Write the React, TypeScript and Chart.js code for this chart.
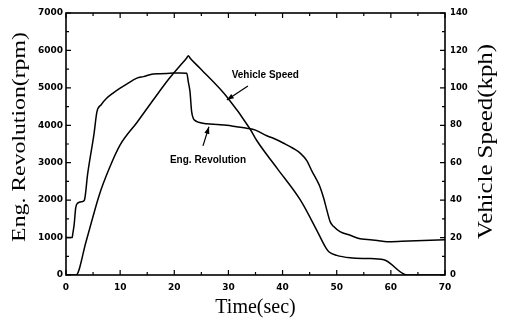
import React, { useEffect, useRef } from "react";
import { Chart, registerables } from "chart.js";

Chart.register(...registerables);

// ---- data ----
const rpmTime = [0, 1.15, 1.25, 1.5, 1.8, 2.15, 3.0, 3.4, 4.0, 5.2, 5.7, 6.5, 7.5, 8.7, 10.0, 11.2, 13.1, 14.3, 16.1, 17.4, 19.2, 21.0, 22.3, 22.6, 22.9, 23.2, 23.5, 23.8, 24.5, 26.0, 28.0, 29.7, 31.5, 33.4, 35.0, 37.1, 38.5, 40.2, 42.0, 43.3, 44.5, 45.4, 46.3, 46.9, 47.6, 48.2, 48.8, 49.4, 50.6, 52.5, 54.3, 55.6, 57.5, 59.3, 62.0, 66.0, 70.0];
const rpmValues = [1000, 1000, 1100, 1340, 1800, 1920, 1960, 2000, 2700, 3800, 4350, 4550, 4720, 4860, 4990, 5100, 5260, 5300, 5370, 5380, 5390, 5400, 5390, 5150, 4900, 4370, 4190, 4130, 4080, 4040, 4020, 4000, 3960, 3920, 3870, 3720, 3640, 3520, 3380, 3250, 3050, 2780, 2540, 2360, 2050, 1720, 1420, 1300, 1160, 1060, 970, 950, 920, 890, 900, 920, 940];

const speedTime = [0, 1.85, 3.7, 6.15, 8.0, 10.0, 13.1, 16.1, 19.2, 21.1, 22.3, 22.6, 22.9, 24.75, 29.7, 34.0, 35.2, 39.0, 43.3, 46.3, 48.0, 48.6, 50.0, 52.5, 55.6, 58.7, 63.0, 70.0];
const speedValues = [0, 0, 17.8, 42.8, 57, 69.5, 81.5, 93.5, 105.5, 112, 116, 117.2, 116, 110.5, 95.3, 78, 72, 57, 40, 24, 14.5, 12.3, 10.5, 9.2, 8.8, 8.2, 0, 0];

const timeTicks = [0, 10, 20, 30, 40, 50, 60, 70];
const rpmTicks = [0, 1000, 2000, 3000, 4000, 5000, 6000, 7000];
const speedTicks = [0, 20, 40, 60, 80, 100, 120, 140];

const xTitle = "Time(sec)";
const yTitle = "Eng. Revolution(rpm)";
const y2Title = "Vehicle Speed(kph)";

// annotation anchors in data units: [time, value]
const speedLabel = "Vehicle Speed";
const speedLabelAt = [30.6, 107]; // on speed axis
const speedArrowFrom = [33.6, 101];
const speedArrowTo = [29.7, 93.5];
const rpmLabel = "Eng. Revolution";
const rpmLabelAt = [19.2, 3075]; // on rpm axis
const rpmArrowFrom = [25.3, 3450];
const rpmArrowTo = [26.4, 3960];

const toPoints = (xs: number[], ys: number[]) => xs.map((x, i) => ({ x, y: ys[i] }));

function arrow(ctx: CanvasRenderingContext2D, x1: number, y1: number, x2: number, y2: number) {
  ctx.beginPath();
  ctx.moveTo(x1, y1);
  ctx.lineTo(x2, y2);
  ctx.stroke();
  const a = Math.atan2(y2 - y1, x2 - x1);
  const len = 7;
  const w = 2.6;
  ctx.beginPath();
  ctx.moveTo(x2, y2);
  ctx.lineTo(x2 - len * Math.cos(a) + w * Math.sin(a), y2 - len * Math.sin(a) - w * Math.cos(a));
  ctx.lineTo(x2 - len * Math.cos(a) - w * Math.sin(a), y2 - len * Math.sin(a) + w * Math.cos(a));
  ctx.closePath();
  ctx.fill();
}

function vText(ctx: CanvasRenderingContext2D, text: string, x: number, y: number, font: string, stretch: number) {
  ctx.save();
  ctx.translate(x, y);
  ctx.rotate(-Math.PI / 2);
  ctx.scale(stretch, 1);
  ctx.font = font;
  ctx.textAlign = "center";
  ctx.textBaseline = "alphabetic";
  ctx.fillStyle = "#000";
  ctx.fillText(text, 0, 0);
  ctx.restore();
}

const framePlugin = {
  id: "frameAndNotes",
  afterDatasetsDraw(chart: any) {
    const { ctx, chartArea, scales } = chart;
    const { left, right, top, bottom } = chartArea;
    const x = scales.x, y = scales.y, y2 = scales.y2;
    ctx.save();
    ctx.strokeStyle = "#000";
    ctx.fillStyle = "#000";
    ctx.lineWidth = 1.6;
    ctx.strokeRect(left, top, right - left, bottom - top);
    ctx.lineWidth = 1.2;
    ctx.beginPath();
    for (let v = 0; v <= 7000; v += 500) {
      const p = y.getPixelForValue(v);
      const l = v % 1000 === 0 ? 5 : 3;
      ctx.moveTo(left, p);
      ctx.lineTo(left + l, p);
    }
    for (let v = 0; v <= 140; v += 10) {
      const p = y2.getPixelForValue(v);
      const l = v % 20 === 0 ? 5 : 3;
      ctx.moveTo(right, p);
      ctx.lineTo(right - l, p);
    }
    for (let t = 0; t <= 70; t += 5) {
      const p = x.getPixelForValue(t);
      const l = t % 10 === 0 ? 5 : 3;
      ctx.moveTo(p, bottom);
      ctx.lineTo(p, bottom - l);
      ctx.moveTo(p, top);
      ctx.lineTo(p, top + l);
    }
    ctx.stroke();

    // annotations
    ctx.font = "bold 10px 'Liberation Sans', Arial, sans-serif";
    ctx.textBaseline = "middle";
    ctx.textAlign = "left";
    ctx.fillText(speedLabel, x.getPixelForValue(speedLabelAt[0]), y2.getPixelForValue(speedLabelAt[1]));
    ctx.fillText(rpmLabel, x.getPixelForValue(rpmLabelAt[0]), y.getPixelForValue(rpmLabelAt[1]));
    ctx.lineWidth = 1.2;
    arrow(ctx, x.getPixelForValue(speedArrowFrom[0]), y2.getPixelForValue(speedArrowFrom[1]),
      x.getPixelForValue(speedArrowTo[0]), y2.getPixelForValue(speedArrowTo[1]));
    arrow(ctx, x.getPixelForValue(rpmArrowFrom[0]), y.getPixelForValue(rpmArrowFrom[1]),
      x.getPixelForValue(rpmArrowTo[0]), y.getPixelForValue(rpmArrowTo[1]));
    ctx.restore();

    const mid = (top + bottom) / 2;
    vText(ctx, yTitle, left - 41.5, mid - 7, "19px 'Liberation Serif', 'Times New Roman', serif", 1.25);
    vText(ctx, y2Title, right + 47, mid - 2.5, "20px 'Liberation Serif', 'Times New Roman', serif", 1.24);
  },
};

const tickFont = { family: "'DejaVu Sans', sans-serif", size: 9, weight: "bold" as const };
const plain = (v: any) => String(v);

export default function App() {
  const ref = useRef<HTMLCanvasElement | null>(null);
  useEffect(() => {
    if (!ref.current) return;
    const chart = new Chart(ref.current, {
      type: "line",
      data: {
        datasets: [
          {
            label: "Eng. Revolution",
            data: toPoints(rpmTime, rpmValues),
            yAxisID: "y",
            borderColor: "#000",
            borderWidth: 1.5,
            pointRadius: 0,
            cubicInterpolationMode: "monotone",
            fill: false,
          },
          {
            label: "Vehicle Speed",
            data: toPoints(speedTime, speedValues),
            yAxisID: "y2",
            borderColor: "#000",
            borderWidth: 1.5,
            pointRadius: 0,
            cubicInterpolationMode: "monotone",
            fill: false,
          },
        ],
      },
      options: {
        animation: false,
        responsive: true,
        maintainAspectRatio: false,
        devicePixelRatio: 1,
        layout: { padding: { top: 13, left: 0, right: 0, bottom: 0 } },
        plugins: { legend: { display: false }, tooltip: { enabled: false } },
        scales: {
          x: {
            type: "linear",
            position: "bottom",
            min: 0,
            max: 70,
            grid: { display: false, drawTicks: false },
            border: { display: false },
            afterBuildTicks: (s: any) => { s.ticks = timeTicks.map((v) => ({ value: v })); },
            afterFit: (s: any) => { s.height = 46; },
            ticks: { font: tickFont, color: "#000", padding: 7, maxRotation: 0, autoSkip: false, callback: plain },
            title: {
              display: true,
              text: xTitle,
              color: "#000",
              font: { family: "'Liberation Serif', 'Times New Roman', serif", size: 20 },
              padding: { top: 0, bottom: 1 },
            },
          },
          y: {
            type: "linear",
            position: "left",
            min: 0,
            max: 7000,
            grid: { display: false, drawTicks: false },
            border: { display: false },
            afterBuildTicks: (s: any) => { s.ticks = rpmTicks.map((v) => ({ value: v })); },
            afterFit: (s: any) => { s.width = 66; },
            ticks: { font: tickFont, color: "#000", padding: 3, autoSkip: false, callback: plain },
          },
          y2: {
            type: "linear",
            position: "right",
            min: 0,
            max: 140,
            grid: { display: false, drawTicks: false },
            border: { display: false },
            afterBuildTicks: (s: any) => { s.ticks = speedTicks.map((v) => ({ value: v })); },
            afterFit: (s: any) => { s.width = 61; },
            ticks: { font: { ...tickFont, size: 8.5 }, color: "#000", padding: 5, autoSkip: false, callback: plain },
          },
        },
      },
      plugins: [framePlugin],
    });
    return () => chart.destroy();
  }, []);

  return (
    <div style={{ position: "fixed", left: 0, top: 0, width: 506, height: 321, background: "#fff" }}>
      <canvas ref={ref} />
    </div>
  );
}
